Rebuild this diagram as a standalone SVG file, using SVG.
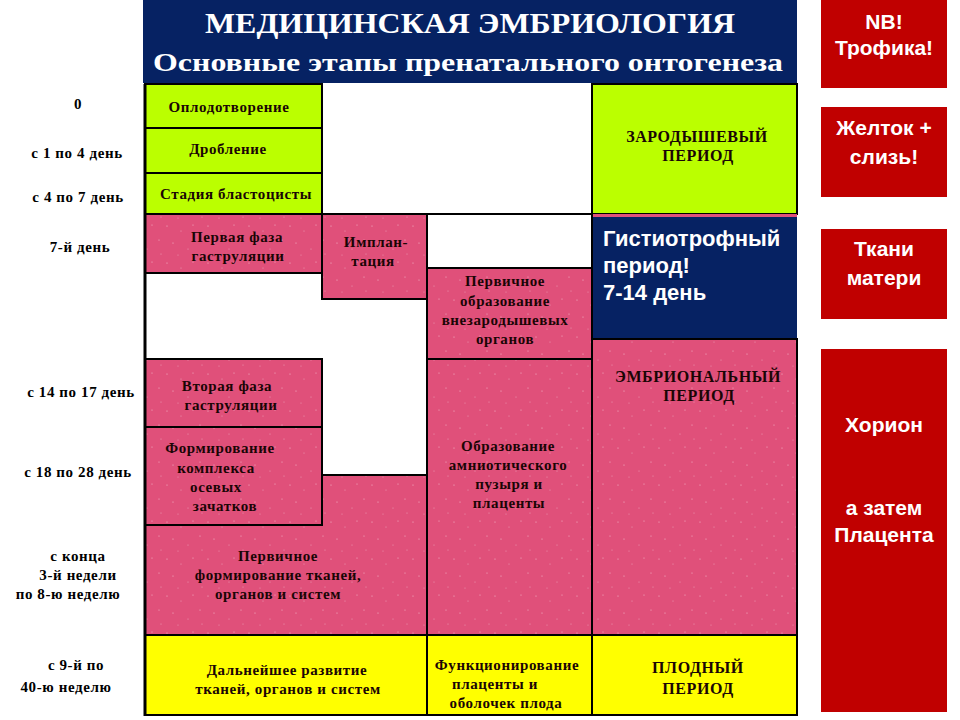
<svg xmlns="http://www.w3.org/2000/svg" width="960" height="720" viewBox="0 0 960 720">
<defs>
<pattern id="speck" width="41" height="37" patternUnits="userSpaceOnUse">
<rect width="41" height="37" fill="#E0507A"/>
<circle cx="3" cy="4" r="0.6" fill="#fff" opacity="0.6"/>
<circle cx="17" cy="9" r="0.5" fill="#fff" opacity="0.5"/>
<circle cx="29" cy="3" r="0.6" fill="#fff" opacity="0.55"/>
<circle cx="9" cy="21" r="0.6" fill="#fff" opacity="0.6"/>
<circle cx="24" cy="27" r="0.5" fill="#fff" opacity="0.5"/>
<circle cx="36" cy="18" r="0.6" fill="#fff" opacity="0.55"/>
<circle cx="14" cy="33" r="0.5" fill="#fff" opacity="0.45"/>
<circle cx="38" cy="32" r="0.5" fill="#fff" opacity="0.5"/>
</pattern>
<style>
.g{fill:#BBFF00;stroke:#000;stroke-width:2}
.p{fill:url(#speck);stroke:#000;stroke-width:2}
.y{fill:#FFFF00;stroke:#000;stroke-width:2}
.r{fill:#C00000}
.t{font-family:"Liberation Serif","Times New Roman",serif;font-weight:bold;font-size:15px;letter-spacing:0.6px;fill:#1a0505;text-anchor:middle}
.lb{font-family:"Liberation Serif","Times New Roman",serif;font-weight:bold;font-size:15px;letter-spacing:0.6px;fill:#000;text-anchor:middle}
.big{font-size:16px}
.w{font-family:"Liberation Sans",Arial,sans-serif;font-weight:bold;font-size:21px;fill:#fff;text-anchor:middle}
.ws{font-family:"Liberation Sans",Arial,sans-serif;font-weight:bold;font-size:22px;fill:#fff}
</style>
</defs>
<rect width="960" height="720" fill="#fff"/>

<g id="title">
<rect x="143" y="0" width="654" height="83" fill="#062263"/>
<text x="470" y="33" font-family="'Liberation Serif','Times New Roman',serif" font-weight="bold" font-size="29" fill="#fff" text-anchor="middle" textLength="530" lengthAdjust="spacingAndGlyphs">МЕДИЦИНСКАЯ ЭМБРИОЛОГИЯ</text>
<text x="468" y="71" font-family="'Liberation Serif','Times New Roman',serif" font-weight="bold" font-size="25" fill="#fff" text-anchor="middle" textLength="630" lengthAdjust="spacingAndGlyphs">Основные этапы пренатального онтогенеза</text>
</g>

<g id="timeline">
<text class="lb" x="78" y="109">0</text>
<text class="lb" x="77" y="158">с 1 по 4 день</text>
<text class="lb" x="78" y="202">с 4 по 7 день</text>
<text class="lb" x="80" y="252">7-й  день</text>
<text class="lb" x="81" y="397">с 14 по 17 день</text>
<text class="lb" x="78" y="477">с 18 по 28 день</text>
<text class="lb" x="78" y="561">с конца</text>
<text class="lb" x="78" y="580">3-й недели</text>
<text class="lb" x="68" y="599">по 8-ю неделю</text>
<text class="lb" x="76" y="670">с 9-й по</text>
<text class="lb" x="66" y="692">40-ю неделю</text>
</g>

<g id="oplodotvorenie"><rect class="g" x="145" y="84" width="177" height="44"/><text class="t" x="229" y="112">Оплодотворение</text></g>
<g id="droblenie"><rect class="g" x="145" y="128" width="177" height="45"/><text class="t" x="228" y="154">Дробление</text></g>
<g id="blastocysta"><rect class="g" x="145" y="173" width="177" height="41"/><text class="t" x="236" y="199">Стадия бластоцисты</text></g>

<g id="zarodyshevy"><rect class="g" x="592" y="84" width="205" height="130"/><text class="t big" x="697" y="142">ЗАРОДЫШЕВЫЙ</text><text class="t big" x="698" y="161">ПЕРИОД</text></g>

<g id="histotroph"><rect x="592" y="214" width="205" height="4" fill="#E0507A"/><rect x="592" y="217" width="205" height="122" fill="#062263"/>
<text class="ws" x="603" y="246">Гистиотрофный</text><text class="ws" x="603" y="273">период!</text><text class="ws" x="603" y="300">7-14 день</text></g>

<g id="perv-organy-tkani"><rect class="p" x="145" y="475" width="282" height="160"/>
<text class="t" x="278" y="561">Первичное</text><text class="t" x="278" y="580">формирование тканей,</text><text class="t" x="278" y="599">органов и систем</text></g>

<g id="gastr1"><rect class="p" x="145" y="214" width="177" height="59"/><text class="t" x="237" y="242">Первая фаза</text><text class="t" x="238" y="261">гаструляции</text></g>
<g id="implantacia"><rect class="p" x="322" y="214" width="105" height="85"/><text class="t" x="376" y="247">Имплан-</text><text class="t" x="373" y="266">тация</text></g>
<g id="vnezarod"><rect class="p" x="427" y="268" width="165" height="91"/><text class="t" x="505" y="286">Первичное</text><text class="t" x="505" y="306">образование</text><text class="t" x="505" y="325">внезародышевых</text><text class="t" x="505" y="344">органов</text></g>
<g id="gastr2"><rect class="p" x="145" y="359" width="177" height="68"/><text class="t" x="227" y="391">Вторая фаза</text><text class="t" x="231" y="410">гаструляции</text></g>
<g id="osevye"><rect class="p" x="145" y="427" width="177" height="98"/><text class="t" x="220" y="453">Формирование</text><text class="t" x="216" y="473">комплекса</text><text class="t" x="216" y="492">осевых</text><text class="t" x="225" y="511">зачатков</text></g>
<g id="amnion"><rect class="p" x="427" y="359" width="165" height="276"/><text class="t" x="508" y="451">Образование</text><text class="t" x="508" y="470">амниотического</text><text class="t" x="509" y="489">пузыря и</text><text class="t" x="509" y="508">плаценты</text></g>
<g id="embrionalny"><rect class="p" x="592" y="339" width="205" height="296" stroke="none"/><rect x="592" y="339" width="205" height="296" fill="none" stroke="#000" stroke-width="1"/><text class="t big" x="698" y="382">ЭМБРИОНАЛЬНЫЙ</text><text class="t big" x="699" y="401">ПЕРИОД</text></g>

<g id="dalneishee"><rect class="y" x="145" y="635" width="282" height="80"/><text class="t" x="287" y="675">Дальнейшее развитие</text><text class="t" x="288" y="694">тканей, органов и систем</text></g>
<g id="funkcionirovanie"><rect class="y" x="427" y="635" width="165" height="80"/><text class="t" x="507" y="670">Функционирование</text><text class="t" x="495" y="689">плаценты и</text><text class="t" x="506" y="708">оболочек плода</text></g>
<g id="plodny"><rect class="y" x="592" y="635" width="205" height="80"/><text class="t big" x="698" y="673">ПЛОДНЫЙ</text><text class="t big" x="698" y="694">ПЕРИОД</text></g>

<g id="frame"><line x1="145" y1="84" x2="145" y2="716" stroke="#000" stroke-width="3"/><line x1="145" y1="214" x2="592" y2="214" stroke="#000" stroke-width="2"/><line x1="592" y1="84" x2="592" y2="716" stroke="#000" stroke-width="2"/></g>

<g id="nb"><rect class="r" x="821" y="0" width="126" height="88"/><text class="w" x="884" y="29">NB!</text><text class="w" x="884" y="55">Трофика!</text></g>
<g id="zheltok"><rect class="r" x="821" y="107" width="126" height="90"/><text class="w" x="884" y="135">Желток +</text><text class="w" x="884" y="164">слизь!</text></g>
<g id="tkani"><rect class="r" x="821" y="229" width="126" height="90"/><text class="w" x="884" y="256">Ткани</text><text class="w" x="884" y="285">матери</text></g>
<g id="horion"><rect class="r" x="821" y="349" width="126" height="363"/><text class="w" x="884" y="432">Хорион</text><text class="w" x="884" y="515">а затем</text><text class="w" x="884" y="542">Плацента</text></g>
</svg>
